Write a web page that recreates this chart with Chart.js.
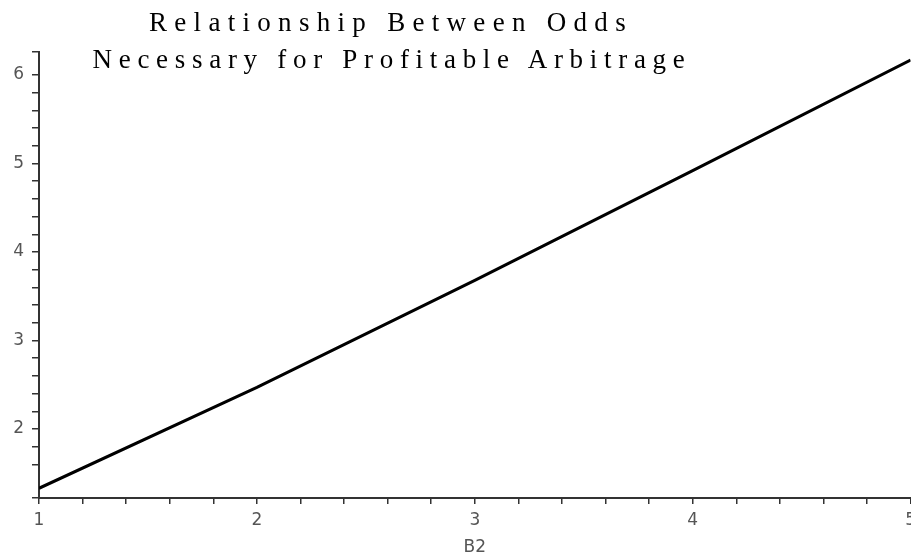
<!DOCTYPE html>
<html>
<head>
<meta charset="utf-8">
<script src="https://cdn.jsdelivr.net/npm/chart.js@4/dist/chart.umd.min.js"></script>
<style>
  html, body { margin: 0; padding: 0; background: #fff; overflow: hidden; width: 911px; height: 558px; }
  #wrap { position: relative; width: 911px; height: 558px; overflow: hidden; }
  #plot { position: absolute; left: 0; top: 0; }
  .title {
    position: absolute;
    left: 392px;
    transform: translateX(-50%);
    white-space: nowrap;
    font-family: "Liberation Serif", "DejaVu Serif", serif;
    font-size: 27px;
    color: #000;
    line-height: 1;
  }
</style>
</head>
<body>
<div id="wrap">
  <canvas id="plot" width="922" height="558"></canvas>
  <div class="title" id="t1" style="top:9px; letter-spacing:7.3px; left:391px">Relationship Between Odds</div>
  <div class="title" id="t2" style="top:46px; letter-spacing:6.7px">Necessary for Profitable Arbitrage</div>
</div>
<script>
// values
const b2 = [1, 2, 3, 4, 5];
const b1 = [1.33, 2.47, 3.68, 4.92, 6.17];

const xMin = 1, xMax = 5;
const yMin = 1.22, yMax = 6.26;
const tickStep = 0.2;
const xTitle = 'B2';

function wholeLabel(value) {
  const r = Math.round(value);
  return Math.abs(value - r) < 1e-6 ? String(r) : '';
}

const tickFont = { family: '"DejaVu Sans", Arial, sans-serif', size: 17 };

const ctx = document.getElementById('plot').getContext('2d');

new Chart(ctx, {
  type: 'line',
  data: {
    datasets: [{
      data: b2.map((x, i) => ({ x: x, y: b1[i] })),
      borderColor: '#000',
      borderWidth: 3,
      pointRadius: 0,
      fill: false,
      tension: 0
    }]
  },
  options: {
    responsive: false,
    animation: false,
    layout: {
      padding: { top: 52, left: 0, right: 0, bottom: 0 }
    },
    scales: {
      x: {
        type: 'linear',
        min: xMin,
        max: xMax,
        afterFit: scale => { scale.height = 60; },
        ticks: {
          stepSize: tickStep,
          autoSkip: false,
          maxRotation: 0,
          padding: 6,
          color: '#555',
          font: tickFont,
          callback: wholeLabel
        },
        grid: {
          drawOnChartArea: false,
          drawTicks: true,
          tickLength: 6,
          color: '#333',
          lineWidth: 1.5
        },
        border: { color: '#333', width: 2 },
        title: {
          display: true,
          text: xTitle,
          color: '#555',
          font: tickFont,
          padding: { top: 7, bottom: 0 }
        }
      },
      y: {
        min: yMin,
        max: yMax,
        afterFit: scale => { scale.width = 39; },
        ticks: {
          stepSize: tickStep,
          autoSkip: false,
          padding: 8,
          color: '#555',
          font: tickFont,
          callback: wholeLabel
        },
        grid: {
          drawOnChartArea: false,
          drawTicks: true,
          tickLength: 7,
          color: '#333',
          lineWidth: 1.5
        },
        border: { color: '#333', width: 2 }
      }
    },
    plugins: {
      legend: { display: false },
      tooltip: { enabled: false }
    }
  }
});
</script>
</body>
</html>
